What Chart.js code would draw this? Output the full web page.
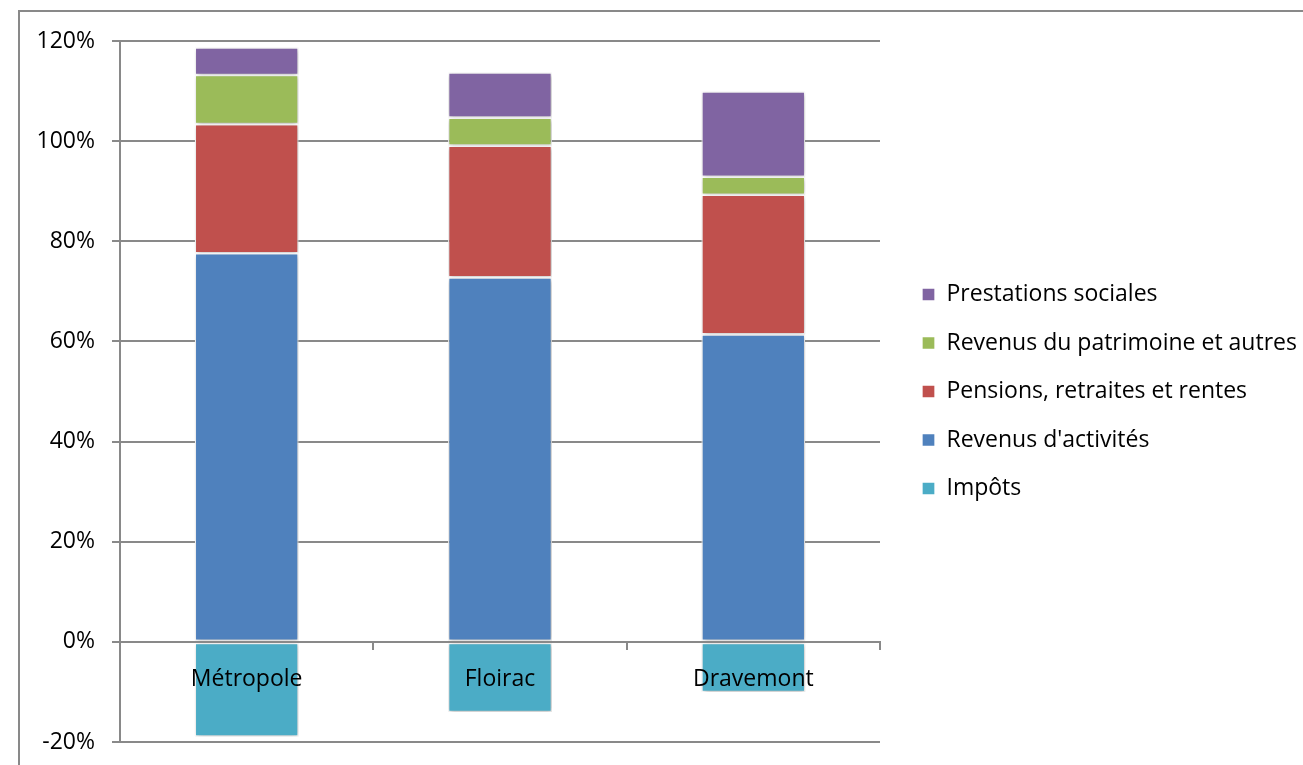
<!DOCTYPE html>
<html lang="fr">
<head>
<meta charset="utf-8">
<title>Structure des revenus</title>
<script src="https://cdn.jsdelivr.net/npm/chart.js@4/dist/chart.umd.min.js"></script>
<style>
    html, body { margin: 0; padding: 0; background: #fff; }
    #wrap { position: relative; width: 1303px; height: 765px; }
</style>
</head>
<body>
<div id="wrap"><canvas id="revenusChart" width="1303" height="765"></canvas></div>
<script>
// Communes
const categories = ['Métropole', 'Floirac', 'Dravemont'];

// Part de chaque composante dans le revenu disponible (%)
const impots = [-18.9, -14.0, -10.0];
const revenusActivites = [77.6, 72.8, 61.4];
const pensions = [25.8, 26.3, 27.9];
const patrimoine = [9.8, 5.6, 3.6];
const prestations = [5.5, 9.0, 17.0];

// Graduations de l'axe vertical
const yTicks = [-20, 0, 20, 40, 60, 80, 100, 120];

const colors = {
    impots: '#4BACC6',
    activites: '#4F81BD',
    pensions: '#C0504D',
    patrimoine: '#9BBB59',
    prestations: '#8064A2'
};
const gridColor = '#898989';
const fontFamily = '"Open Sans", "DejaVu Sans", sans-serif';
const fontSize = 23;
const legendWidth = 406.5;

// Cadre gris en haut et a gauche
const framePlugin = {
    id: 'frame',
    beforeDraw(chart) {
        const ctx = chart.ctx;
        ctx.save();
        ctx.strokeStyle = gridColor;
        ctx.lineWidth = 2;
        ctx.beginPath();
        ctx.moveTo(19, chart.height);
        ctx.lineTo(19, 11);
        ctx.lineTo(chart.width, 11);
        ctx.stroke();
        ctx.restore();
    }
};

// Ombre douce sous les barres
const shadowPlugin = {
    id: 'barShadow',
    beforeDatasetsDraw(chart) {
        const ctx = chart.ctx;
        ctx.save();
        ctx.shadowColor = 'rgba(0, 0, 0, 0.3)';
        ctx.shadowBlur = 5;
        ctx.shadowOffsetX = 1;
        ctx.shadowOffsetY = 1;
    },
    afterDatasetsDraw(chart) {
        chart.ctx.restore();
    }
};

// La legende garde toute sa largeur au lieu de la moitie de l'espace libre
const wideLegendPlugin = {
    id: 'wideLegend',
    beforeLayout(chart) {
        const legend = chart.legend;
        if (!legend || legend._wideFit) return;
        const fit = legend.fit;
        legend.fit = function () {
            this.maxWidth = 1000;
            fit.call(this);
            this.width = legendWidth;
        };
        legend._wideFit = true;
    }
};

function barDataset(label, data, color) {
    return {
        label: label,
        data: data,
        backgroundColor: color,
        borderColor: '#ffffff',
        borderWidth: 1.3,
        borderSkipped: false,
        barPercentage: 0.41,
        categoryPercentage: 1.0
    };
}

const ctx = document.getElementById('revenusChart');
new Chart(ctx.getContext('2d'), {
    type: 'bar',
    data: {
        labels: categories,
        datasets: [
            barDataset('Impôts', impots, colors.impots),
            barDataset("Revenus d'activités", revenusActivites, colors.activites),
            barDataset('Pensions, retraites et rentes', pensions, colors.pensions),
            barDataset('Revenus du patrimoine et autres', patrimoine, colors.patrimoine),
            barDataset('Prestations sociales', prestations, colors.prestations)
        ]
    },
    options: {
        responsive: false,
        animation: false,
        layout: {
            padding: { top: 41, bottom: 23, left: 0, right: 0 }
        },
        plugins: {
            legend: {
                position: 'right',
                reverse: true,
                labels: {
                    boxWidth: 13,
                    boxHeight: 13,
                    padding: 25.5,
                    color: '#000',
                    font: { family: fontFamily, size: fontSize }
                }
            },
            tooltip: { enabled: false }
        },
        scales: {
            x: {
                stacked: true,
                position: { y: 0 },
                afterFit(scale) {
                    scale.height = 0;
                },
                grid: {
                    offset: true,
                    drawOnChartArea: false,
                    drawTicks: true,
                    tickLength: 7,
                    color: gridColor,
                    lineWidth: 2
                },
                border: { display: true, color: gridColor, width: 2, z: 1 },
                ticks: {
                    z: 1,
                    padding: 17,
                    color: '#000',
                    font: { family: fontFamily, size: fontSize }
                }
            },
            y: {
                stacked: true,
                min: -20,
                max: 120,
                afterBuildTicks(scale) {
                    scale.ticks = yTicks.map(v => ({ value: v }));
                },
                afterFit(scale) {
                    scale.width = 120;
                    scale.paddingTop = 0;
                    scale.paddingBottom = 0;
                },
                grid: {
                    color: gridColor,
                    lineWidth: 2,
                    tickLength: 8
                },
                border: { display: true, color: gridColor, width: 2 },
                ticks: {
                    padding: 17,
                    color: '#000',
                    font: { family: fontFamily, size: fontSize },
                    callback: v => v + '%'
                }
            },
            // axe vide qui laisse un espace avant la legende
            spacer: {
                type: 'linear',
                position: 'right',
                display: true,
                grid: { display: false, drawTicks: false },
                border: { display: false },
                ticks: { display: false },
                afterFit(scale) {
                    scale.width = 16.5;
                }
            }
        }
    },
    plugins: [framePlugin, shadowPlugin, wideLegendPlugin]
});
</script>
</body>
</html>
